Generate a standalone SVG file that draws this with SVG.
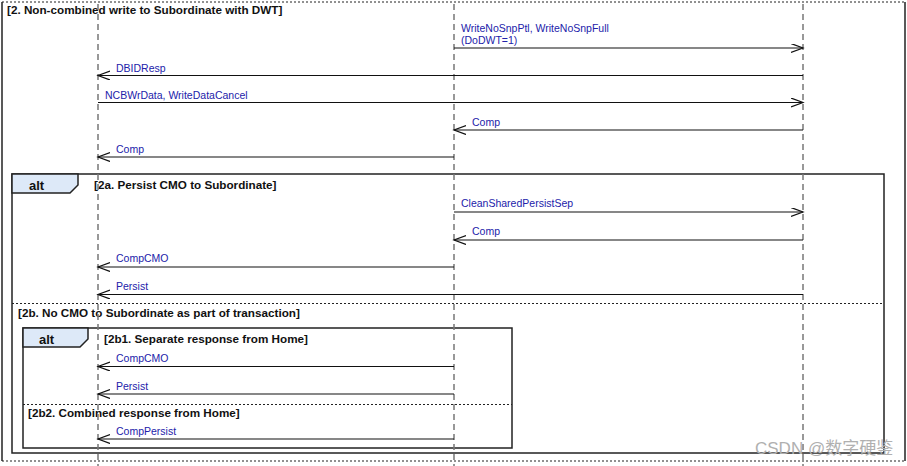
<svg xmlns="http://www.w3.org/2000/svg" width="907" height="466" viewBox="0 0 907 466">
<defs>
<marker id="arr" markerWidth="14" markerHeight="11" refX="12" refY="4.5" orient="auto" markerUnits="userSpaceOnUse">
<path d="M0,0 L12,4.5 L0,9" fill="none" stroke="#111" stroke-width="1.2"/>
</marker>
<style>
.life{stroke:#777;stroke-width:1.5;stroke-dasharray:6 4;fill:none}
.box{fill:none;stroke:#222;stroke-width:1.5}
.dot{stroke:#222;stroke-width:1;stroke-dasharray:2 2;fill:none}
.tab{fill:#dde9f8;stroke:#222;stroke-width:1.5}
.msg{stroke:#111;stroke-width:1.2;fill:none;marker-end:url(#arr)}
.lbl{font-family:"Liberation Sans",Arial,sans-serif;font-size:10.5px;fill:#2222aa}
.ttl{font-family:"Liberation Sans",Arial,sans-serif;font-size:11.7px;font-weight:bold;fill:#111}
.alt{font-family:"Liberation Sans",Arial,sans-serif;font-size:13px;font-weight:bold;fill:#111}
</style>
</defs>
<rect width="907" height="466" fill="#fff"/>

<g id="frame-main">
<line x1="2" y1="2" x2="905" y2="2" class="dot"/>
<line x1="2" y1="461" x2="905" y2="461" class="dot"/>
<line x1="2" y1="2" x2="2" y2="461" class="box"/>
<line x1="905" y1="2" x2="905" y2="461" class="box"/>
<text x="7" y="14" class="ttl">[2. Non-combined write to Subordinate with DWT]</text>
</g>

<g id="alt-outer">
<rect x="12" y="174" width="872" height="279" class="box"/>
<path d="M12,174 L78,174 L78,185 L70,193 L12,193 Z" class="tab"/>
<text x="29" y="190" class="alt">alt</text>
<text x="94" y="189" class="ttl">[2a. Persist CMO to Subordinate]</text>
<line x1="12" y1="303.5" x2="884" y2="303.5" class="dot"/>
<text x="18" y="317" class="ttl">[2b. No CMO to Subordinate as part of transaction]</text>
</g>

<g id="alt-inner">
<rect x="23" y="328" width="489" height="120" class="box"/>
<path d="M23,328 L88,328 L88,339 L80,347 L23,347 Z" class="tab"/>
<text x="39" y="344" class="alt">alt</text>
<text x="104" y="343" class="ttl">[2b1. Separate response from Home]</text>
<line x1="23" y1="404.5" x2="512" y2="404.5" class="dot"/>
<text x="28" y="417" class="ttl">[2b2. Combined response from Home]</text>
</g>

<g id="lifelines">
<line id="life-a" x1="98" y1="4" x2="98" y2="466" class="life"/>
<line id="life-b" x1="454" y1="4" x2="454" y2="466" class="life"/>
<line id="life-c" x1="803" y1="4" x2="803" y2="466" class="life"/>
</g>

<g id="connectors">
<line x1="454" y1="48" x2="803" y2="48" class="msg"/>
<line x1="803" y1="75.5" x2="98" y2="75.5" class="msg"/>
<line x1="98" y1="102.5" x2="803" y2="102.5" class="msg"/>
<line x1="803" y1="130" x2="454" y2="130" class="msg"/>
<line x1="454" y1="157" x2="98" y2="157" class="msg"/>
<line x1="454" y1="212" x2="803" y2="212" class="msg"/>
<line x1="803" y1="240" x2="454" y2="240" class="msg"/>
<line x1="454" y1="267" x2="98" y2="267" class="msg"/>
<line x1="803" y1="294.5" x2="98" y2="294.5" class="msg"/>
<line x1="454" y1="366.5" x2="98" y2="366.5" class="msg"/>
<line x1="454" y1="394" x2="98" y2="394" class="msg"/>
<line x1="454" y1="439" x2="98" y2="439" class="msg"/>
</g>

<g id="labels">
<text x="461" y="32" class="lbl">WriteNoSnpPtl, WriteNoSnpFull</text>
<text x="461" y="44" class="lbl">(DoDWT=1)</text>
<text x="116" y="72" class="lbl">DBIDResp</text>
<text x="105" y="99" class="lbl">NCBWrData, WriteDataCancel</text>
<text x="472" y="126" class="lbl">Comp</text>
<text x="116" y="153" class="lbl">Comp</text>
<text x="461" y="207" class="lbl">CleanSharedPersistSep</text>
<text x="472" y="235" class="lbl">Comp</text>
<text x="116" y="262" class="lbl">CompCMO</text>
<text x="116" y="290" class="lbl">Persist</text>
<text x="116" y="362" class="lbl">CompCMO</text>
<text x="116" y="390" class="lbl">Persist</text>
<text x="116" y="435" class="lbl">CompPersist</text>
</g>

<text x="755" y="454" font-family="'Liberation Sans','Noto Sans CJK SC',sans-serif" font-size="17" fill="#b0b0b0">CSDN @数字硬鉴</text>
</svg>
